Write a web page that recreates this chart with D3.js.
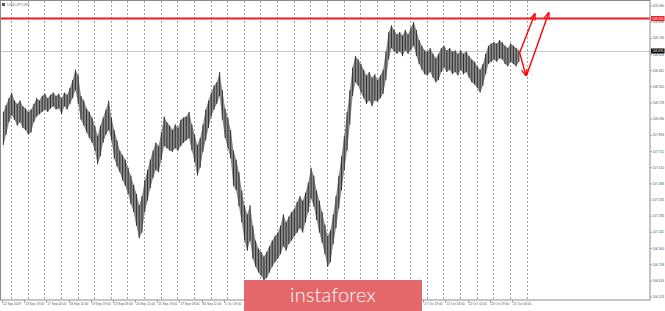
<!DOCTYPE html>
<html>
<head>
<meta charset="utf-8">
<script src="https://cdnjs.cloudflare.com/ajax/libs/d3/7.8.5/d3.min.js"></script>
<style>
body { margin: 0; background: #fff; }
svg { display: block; font-family: "Liberation Sans", Arial, sans-serif; }
</style>
</head>
<body>
<div id="chart"></div>
<script>
'use strict';

var symbol = "USDJPY,H1";

// one label every 32 hourly bars, first one sits on bar 0
var timeLabels = ["12 Sep 2019", "13 Sep 19:00", "17 Sep 03:00", "18 Sep 11:00", "19 Sep 19:00",
    "23 Sep 03:00", "24 Sep 11:00", "25 Sep 19:00", "27 Sep 03:00", "30 Sep 11:00", "1 Oct 19:00",
    "3 Oct 03:00", "4 Oct 11:00", "7 Oct 19:00", "9 Oct 03:00", "10 Oct 11:00", "11 Oct 19:00",
    "15 Oct 03:00", "16 Oct 11:00", "17 Oct 19:00", "21 Oct 03:00", "22 Oct 11:00", "23 Oct 19:00",
    "25 Oct 03:00"];
var barsPerLabel = 32;

var priceTicks = [106.474, 106.616, 106.758, 106.900, 107.042, 107.184, 107.326, 107.468, 107.610,
    107.752, 107.894, 108.036, 108.178, 108.320, 108.462, 108.604, 108.746, 108.888, 109.030];

// high / low of each 4 hour block
var blockHours = 4;
var highs = [
    108.10, 108.16, 108.22, 108.27, 108.20, 108.17, 108.20, 108.15, 108.13, 108.10,
    108.12, 108.17, 108.22, 108.20, 108.24, 108.26, 108.22, 108.25, 108.27, 108.24,
    108.26, 108.22, 108.27, 108.25, 108.31, 108.38, 108.47, 108.42, 108.24, 108.20,
    108.13, 108.10, 108.05, 107.98, 107.89, 107.98, 108.05, 108.12, 108.20, 108.05,
    107.94, 107.85, 107.76, 107.72, 107.68, 107.61, 107.54, 107.46, 107.38, 107.28,
    107.36, 107.50, 107.59, 107.68, 107.76, 107.83, 107.80, 107.92, 108.06, 108.01,
    107.98, 107.94, 107.99, 107.96, 108.03, 108.05, 108.06, 108.10, 107.99, 107.90,
    107.81, 107.87, 107.99, 108.12, 108.20, 108.27, 108.33, 108.36, 108.45, 108.29,
    108.13, 108.05, 107.94, 107.76, 107.68, 107.57, 107.41, 107.28, 107.20, 107.28,
    107.10, 106.97, 106.90, 106.87, 106.83, 106.87, 106.92, 106.97, 107.01, 107.04,
    107.10, 107.20, 107.13, 107.18, 107.22, 107.25, 107.31, 107.36, 107.32, 107.39,
    107.48, 107.61, 107.54, 107.41, 107.32, 107.22, 107.11, 107.01, 107.06, 107.20,
    107.36, 107.54, 107.71, 107.89, 108.10, 108.29, 108.49, 108.59, 108.56, 108.52,
    108.47, 108.42, 108.45, 108.40, 108.43, 108.38, 108.42, 108.47, 108.63, 108.80,
    108.86, 108.82, 108.78, 108.80, 108.77, 108.82, 108.78, 108.84, 108.89, 108.82,
    108.73, 108.68, 108.64, 108.63, 108.66, 108.61, 108.57, 108.61, 108.66, 108.68,
    108.64, 108.66, 108.63, 108.64, 108.61, 108.64, 108.61, 108.63, 108.59, 108.56,
    108.54, 108.50, 108.47, 108.52, 108.61, 108.68, 108.70, 108.71, 108.70, 108.73,
    108.71, 108.68, 108.66, 108.70, 108.68, 108.66, 108.64];
var lows = [
    107.81, 107.90, 108.01, 108.07, 108.03, 107.98, 108.01, 107.96, 107.94, 107.90,
    107.92, 108.01, 108.06, 108.08, 108.10, 108.12, 108.10, 108.13, 108.15, 108.12,
    108.13, 108.08, 108.15, 108.12, 108.17, 108.22, 108.29, 108.17, 108.03, 107.98,
    107.92, 107.87, 107.83, 107.76, 107.64, 107.71, 107.83, 107.90, 107.94, 107.85,
    107.69, 107.62, 107.57, 107.50, 107.45, 107.38, 107.29, 107.22, 107.10, 106.99,
    107.04, 107.22, 107.32, 107.43, 107.52, 107.59, 107.57, 107.68, 107.80, 107.78,
    107.76, 107.75, 107.78, 107.76, 107.80, 107.83, 107.85, 107.87, 107.76, 107.66,
    107.54, 107.61, 107.75, 107.85, 107.96, 108.06, 108.12, 108.17, 108.24, 108.03,
    107.87, 107.78, 107.69, 107.45, 107.41, 107.27, 107.13, 106.97, 106.88, 106.97,
    106.81, 106.74, 106.69, 106.66, 106.62, 106.64, 106.69, 106.74, 106.78, 106.81,
    106.85, 106.92, 106.88, 106.94, 106.97, 107.01, 107.04, 107.08, 107.04, 107.13,
    107.22, 107.34, 107.27, 107.15, 107.04, 106.95, 106.85, 106.74, 106.78, 106.94,
    107.08, 107.25, 107.41, 107.59, 107.76, 107.99, 108.24, 108.36, 108.33, 108.27,
    108.22, 108.17, 108.20, 108.15, 108.20, 108.19, 108.22, 108.26, 108.38, 108.56,
    108.66, 108.63, 108.61, 108.63, 108.59, 108.64, 108.61, 108.64, 108.68, 108.59,
    108.52, 108.47, 108.43, 108.42, 108.45, 108.40, 108.36, 108.38, 108.45, 108.49,
    108.45, 108.47, 108.43, 108.45, 108.42, 108.47, 108.43, 108.45, 108.40, 108.36,
    108.34, 108.31, 108.27, 108.33, 108.43, 108.52, 108.54, 108.56, 108.54, 108.57,
    108.56, 108.52, 108.50, 108.54, 108.52, 108.50, 108.54];

// daily period separators (bar index of the first midnight, then every 24 bars)
var firstMidnight = 13;
var barsPerDay = 24;
var dayCount = 32;

var levelPrice = 108.920;
var lastPrice = 108.635;

// forecast arrows, [bar, price] pairs
var arrows = [
    {from: [747, 108.62], to: [756, 108.42]},
    {from: [747, 108.62], to: [769, 108.96]},
    {from: [757, 108.42], to: [789, 108.97]}
];

var width = 665, height = 311;
var plotRight = 650, plotTop = 1, plotBottom = 300;
var logo = {x: 244, y: 280, w: 178, h: 31};

var svg = d3.select("#chart")
    .append("svg")
    .attr("width", width)
    .attr("height", height);

var x = d3.scaleLinear().domain([0, 736]).range([2, 512]);
var y = d3.scaleLinear().domain([106.474, 109.030]).range([297, 6]);

svg.append("rect")
    .attr("width", width).attr("height", height)
    .attr("fill", "#fff");

svg.append("clipPath").attr("id", "plot")
    .append("rect")
    .attr("x", 0).attr("y", plotTop)
    .attr("width", plotRight).attr("height", plotBottom - plotTop);

var plot = svg.append("g").attr("clip-path", "url(#plot)");

// day separators
plot.selectAll(".sep")
    .data(d3.range(dayCount))
    .enter()
    .append("line")
    .attr("class", "sep")
    .attr("x1", function(d) { return Math.round(x(firstMidnight + d * barsPerDay)) + 0.5; })
    .attr("x2", function(d) { return Math.round(x(firstMidnight + d * barsPerDay)) + 0.5; })
    .attr("y1", plotTop).attr("y2", plotBottom)
    .attr("stroke", "#a0a0a0")
    .attr("stroke-width", 1)
    .attr("stroke-dasharray", "2,2");

// bid line
plot.append("line")
    .attr("x1", 0).attr("x2", plotRight)
    .attr("y1", Math.round(y(lastPrice)) + 0.5).attr("y2", Math.round(y(lastPrice)) + 0.5)
    .attr("stroke", "#c8c8c8");

var mid = function(i) { return x(i * blockHours + blockHours / 2); };

// light band between highs and lows, then a thin bar per block
var band = d3.area()
    .x(function(d, i) { return mid(i); })
    .y0(function(d, i) { return y(lows[i]); })
    .y1(function(d) { return y(d); });

plot.append("path")
    .datum(highs)
    .attr("d", band)
    .attr("fill", "#8c8c8c");

plot.selectAll(".blk")
    .data(highs)
    .enter()
    .append("line")
    .attr("class", "blk")
    .attr("x1", function(d, i) { return mid(i); })
    .attr("x2", function(d, i) { return mid(i); })
    .attr("y1", function(d) { return y(d); })
    .attr("y2", function(d, i) { return y(lows[i]); })
    .attr("stroke", "#303030")
    .attr("stroke-width", 1);

// red level
plot.append("line")
    .attr("x1", 0).attr("x2", plotRight)
    .attr("y1", y(levelPrice)).attr("y2", y(levelPrice))
    .attr("stroke", "#ec1c24")
    .attr("stroke-width", 2);

svg.append("defs").append("marker")
    .attr("id", "head")
    .attr("viewBox", "0 0 10 10")
    .attr("refX", 9).attr("refY", 5)
    .attr("markerWidth", 5).attr("markerHeight", 5)
    .attr("orient", "auto")
    .append("path")
    .attr("d", "M0,1 L10,5 L0,9")
    .attr("fill", "none")
    .attr("stroke", "#f00")
    .attr("stroke-width", 1.6);

plot.selectAll(".arrow")
    .data(arrows)
    .enter()
    .append("line")
    .attr("class", "arrow")
    .attr("x1", function(d) { return x(d.from[0]); })
    .attr("y1", function(d) { return y(d.from[1]); })
    .attr("x2", function(d) { return x(d.to[0]); })
    .attr("y2", function(d) { return y(d.to[1]); })
    .attr("stroke", "#f00")
    .attr("stroke-width", 1.4)
    .attr("marker-end", "url(#head)");

// frame
svg.append("rect")
    .attr("x", 0.5).attr("y", 0.5)
    .attr("width", plotRight - 0.5).attr("height", plotBottom - 0.5)
    .attr("fill", "none")
    .attr("stroke", "#8c8c8c");

// symbol caption
svg.append("rect")
    .attr("x", 2).attr("y", 3).attr("width", 3).attr("height", 3)
    .attr("fill", "#555");
svg.append("text")
    .attr("x", 7).attr("y", 6.3)
    .attr("font-size", 4.2)
    .attr("fill", "#777")
    .text(symbol);

// price axis
var pAxis = svg.append("g");
pAxis.selectAll("line")
    .data(priceTicks)
    .enter()
    .append("line")
    .attr("x1", plotRight).attr("x2", plotRight + 2)
    .attr("y1", function(d) { return y(d); })
    .attr("y2", function(d) { return y(d); })
    .attr("stroke", "#777")
    .attr("stroke-width", 0.6);
pAxis.selectAll("text")
    .data(priceTicks)
    .enter()
    .append("text")
    .attr("x", plotRight + 2.5)
    .attr("y", function(d) { return y(d) + 1.1; })
    .attr("font-size", 3.4)
    .attr("textLength", 11.5)
    .attr("lengthAdjust", "spacingAndGlyphs")
    .attr("fill", "#555")
    .text(function(d) { return d.toFixed(3); });

// price tags for level and bid
var tags = [{p: levelPrice, bg: "#ec1c24"}, {p: lastPrice, bg: "#000"}];
var tag = svg.selectAll(".tag")
    .data(tags)
    .enter()
    .append("g")
    .attr("class", "tag");
tag.append("rect")
    .attr("x", plotRight + 1)
    .attr("y", function(d) { return y(d.p) - 2.5; })
    .attr("width", 13.5).attr("height", 5)
    .attr("fill", function(d) { return d.bg; });
tag.append("text")
    .attr("x", plotRight + 2)
    .attr("y", function(d) { return y(d.p) + 1.1; })
    .attr("font-size", 3.4)
    .attr("textLength", 11.5)
    .attr("lengthAdjust", "spacingAndGlyphs")
    .attr("fill", "#fff")
    .text(function(d) { return d.p.toFixed(3); });

// time axis; labels under the watermark are covered in the original, so skip them
var tPos = function(i) { return x(i * barsPerLabel); };
var shownLabels = timeLabels
    .map(function(d, i) { return {text: d, i: i}; })
    .filter(function(d) { return tPos(d.i) + 18 < logo.x || tPos(d.i) > logo.x + logo.w; });

var tAxis = svg.append("g");
tAxis.selectAll("line")
    .data(timeLabels)
    .enter()
    .append("line")
    .attr("x1", function(d, i) { return Math.round(tPos(i)) + 0.5; })
    .attr("x2", function(d, i) { return Math.round(tPos(i)) + 0.5; })
    .attr("y1", plotBottom).attr("y2", plotBottom + 3)
    .attr("stroke", "#777")
    .attr("stroke-width", 0.6);
tAxis.selectAll("text")
    .data(shownLabels)
    .enter()
    .append("text")
    .attr("x", function(d) { return tPos(d.i) + 1; })
    .attr("y", plotBottom + 4.8)
    .attr("font-size", 3.2)
    .attr("fill", "#555")
    .text(function(d) { return d.text; });

// watermark
svg.append("rect")
    .attr("x", logo.x).attr("y", logo.y)
    .attr("width", logo.w).attr("height", logo.h)
    .attr("fill", "#e4676b");
svg.append("text")
    .attr("x", logo.x + logo.w / 2).attr("y", 302)
    .attr("text-anchor", "middle")
    .attr("font-family", "Lato, 'Open Sans', sans-serif")
    .attr("font-weight", 300)
    .attr("font-size", 20)
    .attr("textLength", 86)
    .attr("fill", "#fff")
    .text("instaforex");
</script>
</body>
</html>
